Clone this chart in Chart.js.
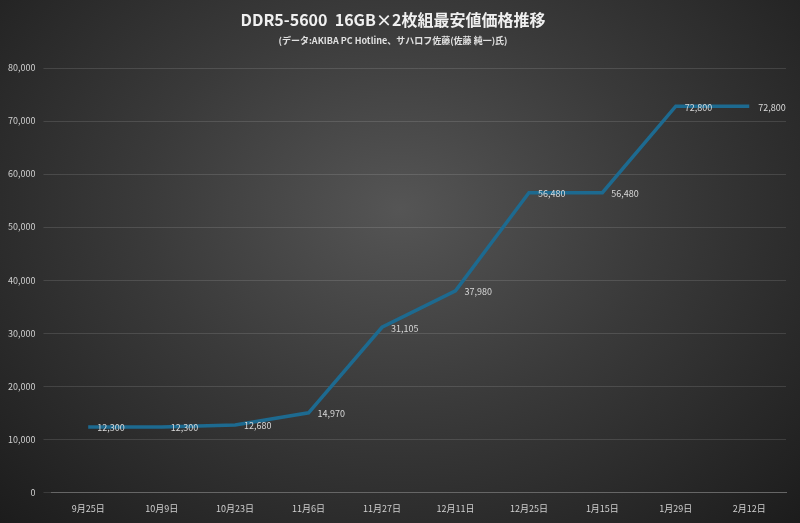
<!DOCTYPE html><html><head><meta charset="utf-8">
<script src="https://cdn.jsdelivr.net/npm/chart.js@4"></script>
<style>html,body{margin:0;padding:0;background:#222}#w{width:800px;height:523px;background:radial-gradient(ellipse at 50% 40%,#555 0%,#3a3a3a 45%,#1c1c1c 100%)}</style>
</head><body><div id="w"><canvas id="c" width="800" height="523"></canvas></div>
<script>
const categories=["9月25日","10月9日","10月23日","11月6日","11月27日","12月11日","12月25日","1月15日","1月29日","2月12日"];
const prices=[12300,12300,12680,14970,31105,37980,56480,56480,72800,72800];
const yTicks=[0,10000,20000,30000,40000,50000,60000,70000,80000];
const F='"Noto Sans CJK JP","Noto Sans",sans-serif';
const labelPlugin={id:'lbl',afterDatasetsDraw(ch){const c=ch.ctx;const m=ch.getDatasetMeta(0);c.save();c.font='9px '+F;c.fillStyle='#d8d8d8';c.textBaseline='middle';c.textAlign='left';
m.data.forEach((p,i)=>{c.fillText(prices[i].toLocaleString('en-US'),p.x+9,p.y+1);});c.restore();}};
new Chart(document.getElementById('c'),{type:'line',
data:{labels:categories,datasets:[{data:prices,borderColor:'#1d6a90',borderWidth:3.5,pointRadius:0,tension:0,fill:false}]},
options:{responsive:false,animation:false,
layout:{padding:{left:0,right:14,top:0,bottom:6}},
plugins:{legend:{display:false},tooltip:{enabled:false},
title:{display:true,text:'DDR5-5600  16GB×2枚組最安値価格推移',color:'#f0f0f0',font:{family:F,size:16,weight:'bold'},padding:{top:10,bottom:6}},
subtitle:{display:true,text:'(データ:AKIBA PC Hotline、サハロフ佐藤(佐藤 純一)氏)',color:'#e0e0e0',font:{family:F,size:9,weight:'bold'},padding:{bottom:22}}},
scales:{x:{offset:true,grid:{display:false},border:{color:'#666'},ticks:{color:'#d0d0d0',font:{family:F,size:9},maxRotation:0}},
y:{min:0,max:80000,afterBuildTicks(a){a.ticks=yTicks.map(v=>({value:v}));},grid:{color:'rgba(255,255,255,0.12)'},border:{display:false},
ticks:{color:'#d0d0d0',font:{family:F,size:9},padding:8,callback:v=>v.toLocaleString('en-US')}}}},
plugins:[labelPlugin]});
</script></body></html>
